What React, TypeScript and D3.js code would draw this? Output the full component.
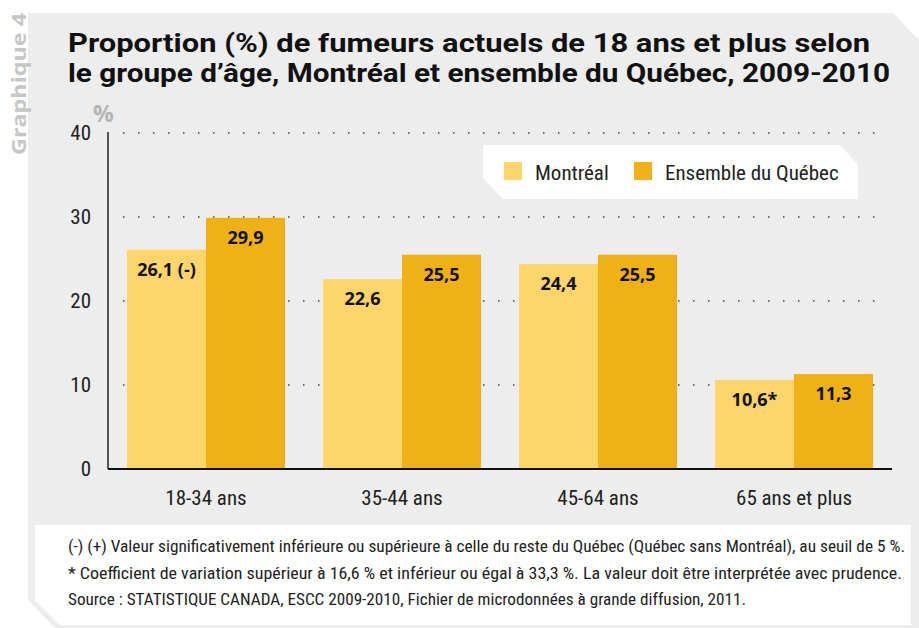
import React from 'react';
import * as d3 from 'd3';

const WIDTH = 919;
const HEIGHT = 628;

const categories = ['18-34 ans', '35-44 ans', '45-64 ans', '65 ans et plus'];
const series = ['Montréal', 'Ensemble du Québec'];
const montreal = [26.1, 22.6, 24.4, 10.6];
const quebec = [29.9, 25.5, 25.5, 11.3];
const montrealLabels = ['26,1 (-)', '22,6', '24,4', '10,6*'];
const quebecLabels = ['29,9', '25,5', '25,5', '11,3'];
const yTicks = [0, 10, 20, 30, 40];
const notes = [
  '(-) (+) Valeur significativement inférieure ou supérieure à celle du reste du Québec (Québec sans Montréal), au seuil de 5 %.',
  '* Coefficient de variation supérieur à 16,6 % et inférieur ou égal à 33,3 %. La valeur doit être interprétée avec prudence.',
  'Source : STATISTIQUE CANADA, ESCC 2009-2010, Fichier de microdonnées à grande diffusion, 2011.',
];

const colors = ['#fdd56b', '#efb116'];
const narrow = "'Liberation Sans Narrow', 'Roboto Condensed', Roboto, sans-serif";
const bold = "'Open Sans', Roboto, sans-serif";
const titleFont = "Roboto, 'Open Sans', sans-serif";

const plot = { l: 108, r: 892, t: 133, b: 469 };

const App = () => {
  const x = d3.scaleBand<string>().domain(categories).range([plot.l, plot.r]).paddingInner(0.194).paddingOuter(0.097);
  const xs = d3.scaleBand<string>().domain(series).range([0, x.bandwidth()]);
  const y = d3.scaleLinear().domain([0, 40]).range([plot.b, plot.t]);

  const values = [montreal, quebec];
  const labels = [montrealLabels, quebecLabels];

  return (
    <svg width={WIDTH} height={HEIGHT} style={{ position: 'absolute', left: 0, top: 0 }}>
      <rect width={WIDTH} height={HEIGHT} fill="#fff" />
      <polygon points="28,13 893,13 919,40 919,628 55,628 28,600" fill="#ededed" />
      <text
        transform="translate(26,155) rotate(-90)"
        fontFamily={bold}
        fontWeight="bold"
        fontSize={19}
        fill="#c6c6c6"
        textLength={142}
        lengthAdjust="spacingAndGlyphs"
      >
        Graphique 4
      </text>

      <text x={68} y={52} fontFamily={titleFont} fontWeight="bold" fontSize={25} fill="#111" textLength={802} lengthAdjust="spacingAndGlyphs">
        Proportion (%) de fumeurs actuels de 18 ans et plus selon
      </text>
      <text x={68} y={82} fontFamily={titleFont} fontWeight="bold" fontSize={25} fill="#111" textLength={822} lengthAdjust="spacingAndGlyphs">
        le groupe d’âge, Montréal et ensemble du Québec, 2009-2010
      </text>
      <text x={93} y={122} fontFamily={bold} fontWeight="bold" fontSize={23} fill="#b5b5b5">
        %
      </text>

      {/* grille pointillée */}
      {yTicks.filter((t) => t > 0).map((t) => (
        <line key={`g-${t}`} x1={plot.l + 15} x2={plot.r - 8} y1={y(t)} y2={y(t)} stroke="#444" strokeWidth={1.5} strokeDasharray="1.5 13.5" />
      ))}
      {yTicks.map((t) => (
        <text key={`t-${t}`} x={91} y={y(t) + 7} textAnchor="end" fontFamily={narrow} fontSize={21} fill="#222">
          {t}
        </text>
      ))}

      {categories.map((c, i) => (
        <g key={c} transform={`translate(${x(c)},0)`}>
          {series.map((s, j) => (
            <g key={s}>
              <rect x={xs(s)} y={y(values[j][i])} width={xs.bandwidth()} height={y(0) - y(values[j][i])} fill={colors[j]} />
              <text
                x={(xs(s) as number) + xs.bandwidth() / 2}
                y={y(values[j][i]) + 26}
                textAnchor="middle"
                fontFamily={bold}
                fontWeight="bold"
                fontSize={18}
                fill="#111"
              >
                {labels[j][i]}
              </text>
            </g>
          ))}
          <text x={x.bandwidth() / 2} y={505} textAnchor="middle" fontFamily={narrow} fontSize={21} fill="#222">
            {c}
          </text>
        </g>
      ))}

      <line x1={plot.l} x2={plot.l} y1={plot.t - 1} y2={plot.b} stroke="#555" strokeWidth={2} />
      <line x1={plot.l} x2={plot.r} y1={plot.b} y2={plot.b} stroke="#111" strokeWidth={2} />

      {/* légende */}
      <polygon points="483,145 840,145 858,165 858,199 503,199 483,178" fill="#fff" />
      {series.map((s, j) => {
        const lx = [504, 634][j];
        return (
          <g key={s}>
            <rect x={lx} y={162} width={18} height={18} fill={colors[j]} />
            <text x={lx + 31} y={180} fontFamily={narrow} fontSize={21} fill="#222">
              {s}
            </text>
          </g>
        );
      })}

      {/* notes */}
      <polygon points="35,525 911,525 911,625 60,625 35,600" fill="#fff" />
      {notes.map((n, i) => (
        <text
          key={i}
          x={68}
          y={552 + i * 26.5}
          fontFamily={narrow}
          fontSize={16}
          fill="#222"
          textLength={[837, 834, 678][i]}
          lengthAdjust="spacingAndGlyphs"
        >
          {n}
        </text>
      ))}
    </svg>
  );
};

export default App;
